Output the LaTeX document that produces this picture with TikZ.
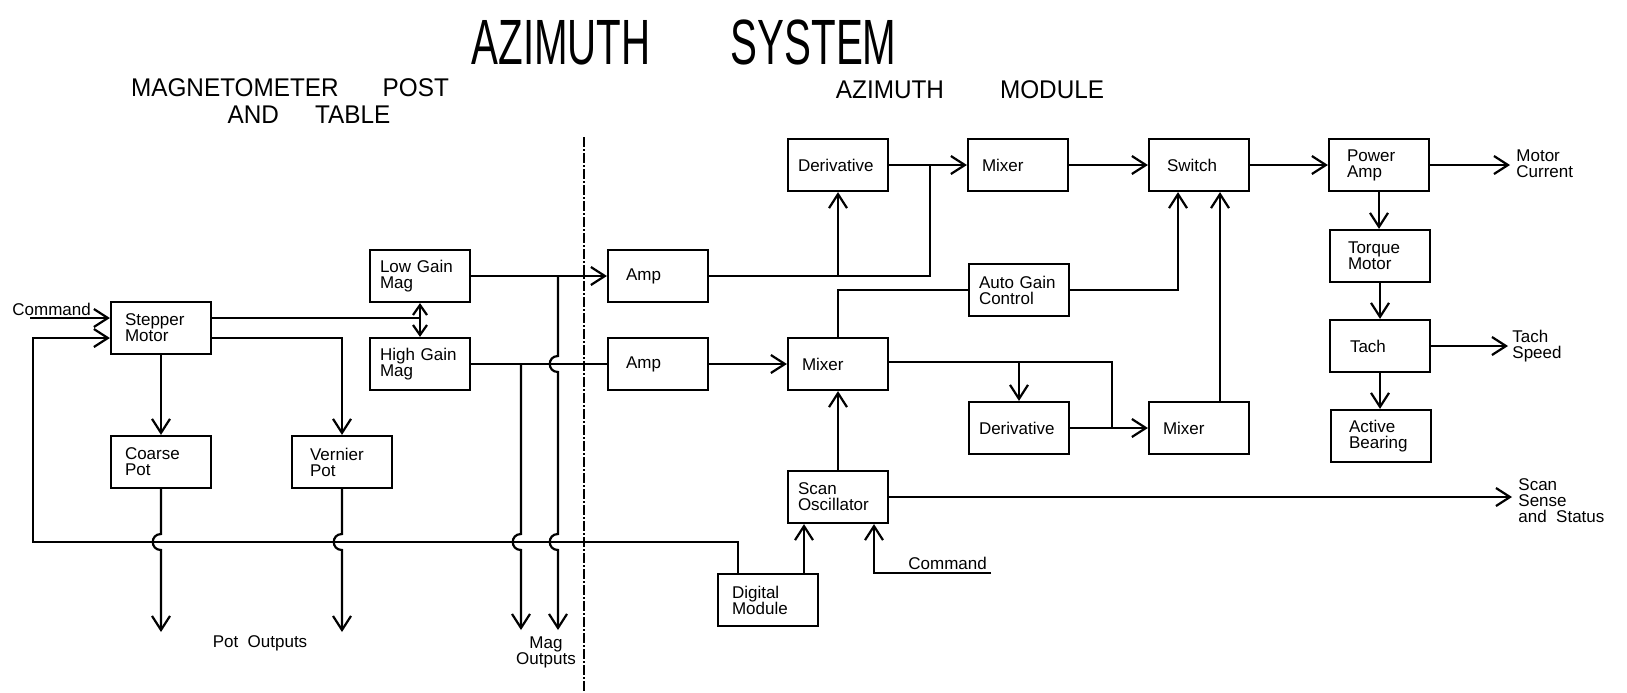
\documentclass[tikz,border=0pt]{standalone}
\usepackage{fontspec}
\setmainfont{Liberation Sans}
\newfontfamily\titlefont[FakeStretch=0.63]{Liberation Sans}
\newfontfamily\subfont[FakeStretch=0.95]{Liberation Sans}
\usetikzlibrary{arrows.meta}
\begin{document}
\begin{tikzpicture}[x=0.5pt,y=-0.5pt,
  blk/.style={draw, line width=1.1pt, minimum height=26pt, text width=40pt, inner xsep=5pt, inner ysep=0pt, align=left, font=\fontsize{8.5}{8}\selectfont},
  ln/.style={line width=1.1pt},
  arr/.style={ln, -{Straight Barb[length=7pt,width=9pt]}},
  dbl/.style={ln, {Straight Barb[length=5pt,width=7pt]}-{Straight Barb[length=5pt,width=7pt]}},
  lbl/.style={font=\fontsize{8.5}{8}\selectfont, align=left, inner sep=0pt},
  subt/.style={font=\subfont\fontsize{12.8}{11}\selectfont, inner sep=0pt},
  divider/.style={line width=1pt, dash pattern=on 5pt off 1pt on 1pt off 1pt}]
\fill[white] (0,0) rectangle (1627,692);
\useasboundingbox (0,0) rectangle (1627,692);

% titles
\node[font=\titlefont\fontsize{32}{32}\selectfont, inner sep=0pt] (title) at (684,42) {AZIMUTH\hspace{40pt}SYSTEM};
\node[subt] (sub1a) at (290,88) {MAGNETOMETER\hspace{22pt}POST};
\node[subt] (sub1b) at (309,115) {AND\hspace{18pt}TABLE};
\node[subt] (sub2) at (970,90) {AZIMUTH\hspace{28pt}MODULE};

% divider
\coordinate (dvT) at (584,137);
\coordinate (dvB) at (584,692);
\draw[divider] (dvT) -- (dvB);

% blocks
\node[blk] (stepper) at (161,328) {\hspace*{2pt}Stepper\\\hspace*{2pt}Motor};
\node[blk] (coarse) at (161,462) {\hspace*{2pt}Coarse\\\hspace*{2pt}Pot};
\node[blk] (vernier) at (342,462) {\hspace*{4pt}Vernier\\\hspace*{4pt}Pot};
\node[blk] (lowgain) at (420,276) {Low Gain\\Mag};
\node[blk] (highgain) at (420,364) {High Gain\\Mag};
\node[blk] (amp1) at (658,276) {\hspace*{4pt}Amp};
\node[blk] (amp2) at (658,364) {\hspace*{4pt}Amp};
\node[blk] (deriv1) at (838,165) {Derivative};
\node[blk] (mixer1) at (1018,165) {\hspace*{2pt}Mixer};
\node[blk] (switch) at (1199,165) {\hspace*{4pt}Switch};
\node[blk] (power) at (1379,165) {\hspace*{4pt}Power\\\hspace*{4pt}Amp};
\node[blk] (torque) at (1380,256) {\hspace*{4pt}Torque\\\hspace*{4pt}Motor};
\node[blk] (tach) at (1380,346) {\hspace*{5pt}Tach};
\node[blk] (bearing) at (1381,436) {\hspace*{4pt}Active\\\hspace*{4pt}Bearing};
\node[blk] (agc) at (1019,290) {Auto Gain\\Control};
\node[blk] (mixer2) at (838,364) {\hspace*{2pt}Mixer};
\node[blk] (deriv2) at (1019,428) {Derivative};
\node[blk] (mixer3) at (1199,428) {\hspace*{2pt}Mixer};
\node[blk] (scan) at (838,497) {Scan\\Oscillator};
\node[blk] (digital) at (768,600) {\hspace*{2pt}Digital\\\hspace*{2pt}Module};

% free ends
\coordinate (cmd) at (30,318);
\coordinate (gj) at (420,318);
\coordinate (j1) at (930,165);
\coordinate (j2) at (1112,428);
\coordinate (busL) at (33,542);
\coordinate (po1) at (161,632);
\coordinate (po2) at (342,632);
\coordinate (mo1) at (521,630);
\coordinate (mo2) at (558,630);
\coordinate (mc) at (1510,165);
\coordinate (ts) at (1508,346);
\coordinate (sss) at (1512,497);
\coordinate (cmd2) at (991,573);

% labels
\node[lbl, anchor=south west] (cmdt) at (12,316) {Command};
\node[lbl, anchor=south west] (cmdt2) at (908,570) {Command};
\node[lbl, anchor=west] (mct) at (1516,164) {Motor\\Current};
\node[lbl, anchor=west] (tst) at (1512,346) {Tach\\Speed};
\node[lbl, anchor=west] (ssst) at (1518,501) {Scan\\Sense\\and\ \ Status};
\node[lbl] (pot) at (260,643) {Pot\ \ Outputs};
\node[lbl, align=center] (mag) at (546,652) {Mag\\Outputs};

% left side connectors
\draw[arr] (cmd) -- (cmd -| stepper.west);
\draw[arr] (stepper.south) -- (coarse.north);
\draw[ln] ([yshift=5pt]stepper.east) -- (gj);
\draw[dbl] (lowgain.south) -- (highgain.north);
\draw[arr] ([yshift=-5pt]stepper.east) -| (vernier.north);
\draw[arr] (lowgain.east) -- (amp1.west);
\draw[ln] (highgain.east) -- (amp2.west);

% bus (digital module feedback to stepper)
\draw[arr] ([xshift=-15pt]digital.north) |- (busL) |- ([yshift=-5pt]stepper.west);

% pot outputs with hops over the bus
\draw[arr] (coarse.south) -- (161,534) .. controls (150,534) and (150,550) .. (161,550) -- (po1);
\draw[arr] (vernier.south) -- (342,534) .. controls (331,534) and (331,550) .. (342,550) -- (po2);

% mag outputs
\draw[arr] (521,364) -- (521,534) .. controls (510,534) and (510,550) .. (521,550) -- (mo1);
\draw[arr] (558,276) -- (558,356) .. controls (547,356) and (547,372) .. (558,372) -- (558,534) .. controls (547,534) and (547,550) .. (558,550) -- (mo2);

% azimuth module
\draw[ln] (amp1.east) -| (j1);
\draw[arr] (amp1.east -| deriv1.south) -- (deriv1.south);
\draw[arr] (deriv1.east) -- (mixer1.west);
\draw[arr] (mixer1.east) -- (switch.west);
\draw[arr] (switch.east) -- (power.west);
\draw[arr] (power.east) -- (mc);
\draw[arr] (power.south) -- (power.south |- torque.north);
\draw[arr] (torque.south) -- (torque.south |- tach.north);
\draw[arr] (tach.south) -- (tach.south |- bearing.north);
\draw[arr] (tach.east) -- (ts);
\draw[arr] (amp2.east) -- (amp2.east -| mixer2.west);
\draw[ln] (mixer2.north) |- (agc.west);
\draw[arr] (agc.east) -| ([xshift=-10.5pt]switch.south);
\draw[ln] ([yshift=1pt]mixer2.east) -| (j2);
\draw[arr] ([yshift=1pt]mixer2.east -| deriv2.north) -- (deriv2.north);
\draw[arr] (deriv2.east) -- (mixer3.west);
\draw[arr] ([xshift=10.5pt]mixer3.north) -- ([xshift=10.5pt]switch.south);
\draw[arr] (scan.north) -- (mixer2.south);
\draw[arr] (scan.east) -- (sss);
\draw[arr] ([xshift=18pt]digital.north) -- ([xshift=18pt]digital.north |- scan.south);
\draw[arr] (cmd2) -| ([xshift=18pt]scan.south);
\end{tikzpicture}
\end{document}
